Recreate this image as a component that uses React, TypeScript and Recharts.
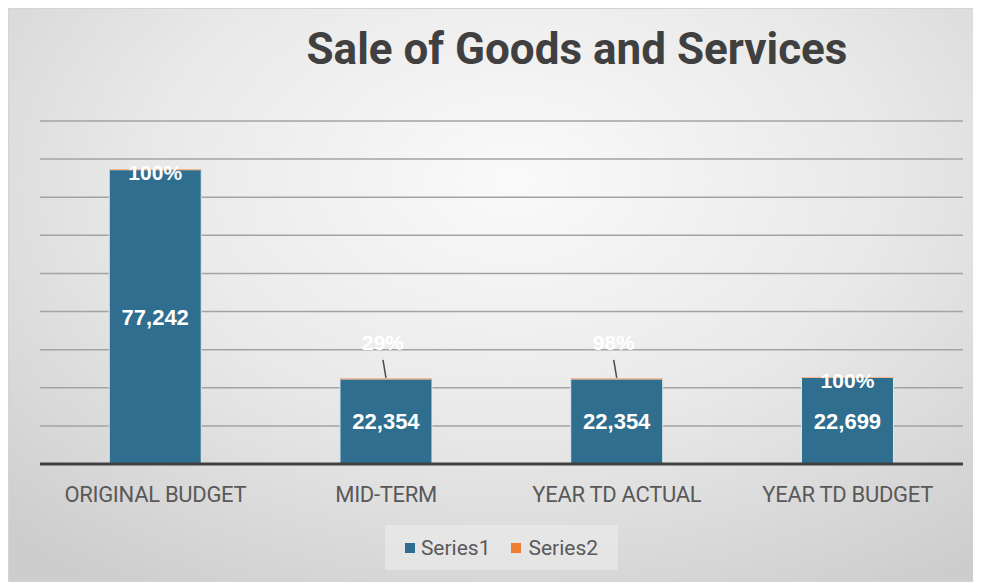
import React from "react";
import {
  Bar,
  BarChart,
  CartesianGrid,
  LabelList,
  Legend,
  XAxis,
  YAxis,
} from "recharts";

const categories = ["ORIGINAL BUDGET", "MID-TERM", "YEAR TD ACTUAL", "YEAR TD BUDGET"];
const series1 = [77242, 22354, 22354, 22699];
const series2 = [1, 0.29, 0.98, 1];
const yTicks = [0, 10000, 20000, 30000, 40000, 50000, 60000, 70000, 80000, 90000];

// labels that Excel pushed above the bar with a leader line
const calloutCategories = ["MID-TERM", "YEAR TD ACTUAL"];

const BLUE = "#2F6E8E";
const ORANGE = "#ED7D31";
const TEXT = "#595959";

const data = categories.map((name, i) => ({
  name,
  series1: series1[i],
  series2: series2[i],
}));

const PctLabel = (props: any) => {
  const { x, y, width, value, index } = props;
  const cx = x + width / 2;
  const text = `${Math.round(value * 100)}%`;
  const style = {
    fontFamily: "Liberation Sans, Arial, sans-serif",
    fontSize: 21,
    fontWeight: 700,
  };
  if (calloutCategories.includes(categories[index])) {
    return (
      <g>
        <line x1={cx - 3} y1={y - 19} x2={cx} y2={y - 1} stroke="#4a4a4a" strokeWidth={1.5} />
        <text x={cx - 3} y={y - 36} textAnchor="middle" dominantBaseline="central" fill="#ffffff" style={style}>
          {text}
        </text>
      </g>
    );
  }
  return (
    <text x={cx} y={y + 3} textAnchor="middle" dominantBaseline="central" fill="#ffffff" style={style}>
      {text}
    </text>
  );
};

const LegendBox = () => (
  <div
    style={{
      width: 233,
      height: 45,
      background: "rgba(236,236,236,0.6)",
      display: "flex",
      alignItems: "center",
      justifyContent: "center",
      gap: 20,
      fontFamily: "Roboto, 'Liberation Sans', sans-serif",
      fontSize: 21,
      color: TEXT,
    }}
  >
    <span style={{ display: "flex", alignItems: "center" }}>
      <span style={{ width: 10, height: 10, background: BLUE, marginRight: 6 }} />
      Series1
    </span>
    <span style={{ display: "flex", alignItems: "center" }}>
      <span style={{ width: 10, height: 10, background: ORANGE, marginRight: 8 }} />
      Series2
    </span>
  </div>
);

export default function App() {
  return (
    <div
      style={{
        position: "relative",
        width: 973,
        height: 574,
        background:
          "radial-gradient(ellipse 75% 85% at 52% 30%, #fafafa 0%, #e9e9e9 50%, #cdcdcd 100%)",
        boxShadow: "inset 0 0 0 1px #d4d4d4",
      }}
    >
      <div
        style={{
          position: "absolute",
          top: 18,
          left: 0,
          width: 1138,
          textAlign: "center",
          fontFamily: "Roboto, sans-serif",
          fontWeight: 700,
          fontSize: 44,
          lineHeight: "46px",
          color: "#404040",
        }}
      >
        Sale of Goods and Services
      </div>
      <BarChart
        width={973}
        height={574}
        data={data}
        margin={{ top: 113, right: 18, left: 32, bottom: 58 }}
        barCategoryGap="30%"
        style={{ position: "absolute", top: 0, left: 0 }}
      >
        <CartesianGrid vertical={false} stroke="#a3a3a3" strokeWidth={1.5} />
        <XAxis
          dataKey="name"
          height={60}
          tickLine={false}
          tickSize={0}
          tickMargin={22}
          axisLine={{ stroke: "#404040", strokeWidth: 3 }}
          tick={{
            fill: TEXT,
            fontSize: 22,
            fontFamily: "Roboto, sans-serif",
            letterSpacing: -0.3,
          }}
        />
        <YAxis hide domain={[0, 90000]} ticks={yTicks} />
        <Legend
          layout="horizontal"
          verticalAlign="middle"
          align="center"
          content={<LegendBox />}
          wrapperStyle={{ left: 377, top: 517, width: 233, height: 45 }}
        />
        <Bar
          dataKey="series1"
          name="Series1"
          stackId="a"
          fill={BLUE}
          stroke="#dce9f0"
          strokeWidth={1}
          isAnimationActive={false}
        >
          <LabelList
            dataKey="series1"
            position="center"
            formatter={(v: any) => Number(v).toLocaleString("en-US")}
            fill="#ffffff"
            style={{ fontFamily: "Liberation Sans, Arial, sans-serif", fontSize: 22, fontWeight: 700 }}
          />
        </Bar>
        <Bar
          dataKey="series2"
          name="Series2"
          stackId="a"
          fill={ORANGE}
          stroke="#f4b890"
          strokeWidth={1}
          isAnimationActive={false}
        >
          <LabelList dataKey="series2" content={<PctLabel />} />
        </Bar>
      </BarChart>
    </div>
  );
}
